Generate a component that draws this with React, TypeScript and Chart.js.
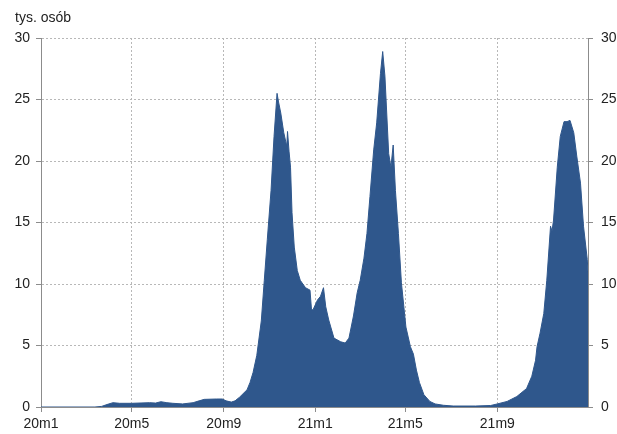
import { useEffect, useRef } from 'react';
import { Chart, registerables } from 'chart.js';

Chart.register(...registerables);

const unitLabel = 'tys. osób';
const startDate = '2020-01-01';
const endDate = '2021-12-31';

const dates = [
  '2020-01-01', '2020-03-13', '2020-03-22', '2020-03-29', '2020-04-06', '2020-04-15',
  '2020-05-01', '2020-05-25', '2020-06-02', '2020-06-09', '2020-06-17', '2020-06-25',
  '2020-07-08', '2020-07-22', '2020-07-30', '2020-08-06', '2020-08-22', '2020-08-30',
  '2020-09-04', '2020-09-11', '2020-09-16', '2020-09-22', '2020-10-02', '2020-10-06',
  '2020-10-10', '2020-10-15', '2020-10-21', '2020-10-25', '2020-10-29', '2020-11-03',
  '2020-11-07', '2020-11-11', '2020-11-13', '2020-11-16', '2020-11-20', '2020-11-24',
  '2020-11-25', '2020-11-27', '2020-11-29', '2020-12-01', '2020-12-04', '2020-12-08',
  '2020-12-12', '2020-12-19', '2020-12-25', '2020-12-27', '2020-12-29', '2021-01-04',
  '2021-01-08', '2021-01-12', '2021-01-15', '2021-01-19', '2021-01-26', '2021-02-04',
  '2021-02-10', '2021-02-15', '2021-02-21', '2021-02-26', '2021-03-02', '2021-03-07',
  '2021-03-11', '2021-03-15', '2021-03-20', '2021-03-24', '2021-03-29', '2021-04-01',
  '2021-04-04', '2021-04-09', '2021-04-12', '2021-04-15', '2021-04-18', '2021-04-22',
  '2021-04-26', '2021-05-02', '2021-05-08', '2021-05-12', '2021-05-16', '2021-05-20',
  '2021-05-26', '2021-06-03', '2021-06-10', '2021-06-21', '2021-07-04', '2021-08-03',
  '2021-08-23', '2021-09-01', '2021-09-14', '2021-09-27', '2021-10-10', '2021-10-17',
  '2021-10-22', '2021-10-24', '2021-10-28', '2021-11-02', '2021-11-06', '2021-11-11',
  '2021-11-13', '2021-11-15', '2021-11-20', '2021-11-24', '2021-11-29', '2021-12-03',
  '2021-12-07', '2021-12-12', '2021-12-16', '2021-12-21', '2021-12-25', '2021-12-30',
  '2021-12-31',
];

const values = [
  0, 0, 0.05, 0.2, 0.35, 0.3,
  0.3, 0.35, 0.32, 0.43, 0.35, 0.3,
  0.25, 0.35, 0.5, 0.62, 0.65, 0.65,
  0.5, 0.4, 0.5, 0.8, 1.4, 2.0,
  2.8, 4.2, 7.0, 10.3, 13.6, 17.6,
  22.0, 25.5, 24.8, 23.9, 22.3, 21.2,
  22.4, 20.8, 19.5, 15.8, 13.0, 11.1,
  10.3, 9.7, 9.5, 7.9, 7.9, 8.7,
  9.0, 9.7, 8.15, 7.07, 5.6, 5.3,
  5.2, 5.6, 7.4, 9.3, 10.3, 12.1,
  14.1, 17.1, 20.9, 23.1, 27.1, 28.9,
  26.9, 20.6, 19.5, 21.3, 17.6, 14.1,
  10.1, 6.5, 4.9, 4.3, 3.0, 2.0,
  1.0, 0.45, 0.25, 0.14, 0.08, 0.08,
  0.12, 0.25, 0.45, 0.85, 1.5, 2.5,
  3.8, 4.9, 6.0, 7.6, 10.3, 14.7,
  14.3, 15.2, 19.5, 22.0, 23.2, 23.2,
  23.3, 22.3, 20.4, 18.2, 14.7, 12.0,
  11.0,
];

const tickDates = ['2020-01-01', '2020-05-01', '2020-09-01', '2021-01-01', '2021-05-01', '2021-09-01'];
const tickLabels = ['20m1', '20m5', '20m9', '21m1', '21m5', '21m9'];
const yTicks = [0, 5, 10, 15, 20, 25, 30];

const DAY = 86400000;
const dayIndex = (s: string) =>
  Math.round((Date.parse(s + 'T00:00:00Z') - Date.parse(startDate + 'T00:00:00Z')) / DAY);

const FONT = '"Liberation Sans", Arial, sans-serif';
const TEXT = '#222222';
const AXIS = '#8c8c8c';
const GRID = '#b8b8b8';
const FILL = '#2f578c';

export default function App() {
  const ref = useRef<HTMLCanvasElement | null>(null);

  useEffect(() => {
    document.body.style.margin = '0';
    const canvas = ref.current;
    if (!canvas) return;

    const points = dates.map((d, i) => ({ x: dayIndex(d), y: values[i] }));
    const tickVals = tickDates.map(dayIndex);

    const unitPlugin = {
      id: 'unitLabel',
      afterDraw(chart: any) {
        const ctx = chart.ctx;
        ctx.save();
        ctx.font = `14px ${FONT}`;
        ctx.fillStyle = TEXT;
        ctx.textAlign = 'left';
        ctx.textBaseline = 'middle';
        ctx.fillText(unitLabel, 15, 18);
        ctx.restore();
      },
    };

    const yCommon = (pos: 'left' | 'right') => ({
      type: 'linear' as const,
      position: pos,
      min: 0,
      max: 30,
      afterBuildTicks: (scale: any) => {
        scale.ticks = yTicks.map((v) => ({ value: v }));
      },
      afterFit: (scale: any) => {
        scale.width = pos === 'left' ? 41 : 29;
      },
      ticks: {
        padding: pos === 'left' ? 6 : 8,
        color: TEXT,
        font: { family: FONT, size: 14 },
      },
      grid: {
        display: true,
        drawOnChartArea: pos === 'left',
        color: GRID,
        tickColor: AXIS,
        tickLength: 5,
        lineWidth: 1,
      },
      border: { display: true, color: AXIS, width: 1, dash: [2, 2] },
    });

    const chart = new Chart(canvas, {
      type: 'line',
      data: {
        datasets: [
          {
            data: points,
            borderColor: FILL,
            backgroundColor: FILL,
            borderWidth: 1,
            pointRadius: 0,
            fill: 'origin',
            tension: 0,
            yAxisID: 'y',
          },
        ],
      },
      options: {
        responsive: false,
        animation: false,
        layout: { padding: { top: 38, left: 0, right: 0, bottom: 0 } },
        plugins: {
          legend: { display: false },
          tooltip: { enabled: false },
          title: { display: false },
        },
        scales: {
          x: {
            type: 'linear',
            min: dayIndex(startDate),
            max: dayIndex(endDate),
            afterBuildTicks: (scale: any) => {
              scale.ticks = tickVals.map((v) => ({ value: v }));
            },
            afterFit: (scale: any) => {
              scale.height = 27;
            },
            ticks: {
              autoSkip: false,
              maxRotation: 0,
              padding: 4,
              color: TEXT,
              font: { family: FONT, size: 14 },
              callback: (v: any) => {
                const i = tickVals.indexOf(Number(v));
                return i >= 0 ? tickLabels[i] : '';
              },
            },
            grid: {
              display: true,
              color: GRID,
              tickColor: AXIS,
              tickLength: 5,
              lineWidth: 1,
            },
            border: { display: true, color: AXIS, width: 1, dash: [2, 2] },
          },
          y: yCommon('left'),
          y2: yCommon('right'),
        },
      },
      plugins: [unitPlugin],
    });

    return () => chart.destroy();
  }, []);

  return <canvas ref={ref} width={617} height={434} style={{ display: 'block' }} />;
}
